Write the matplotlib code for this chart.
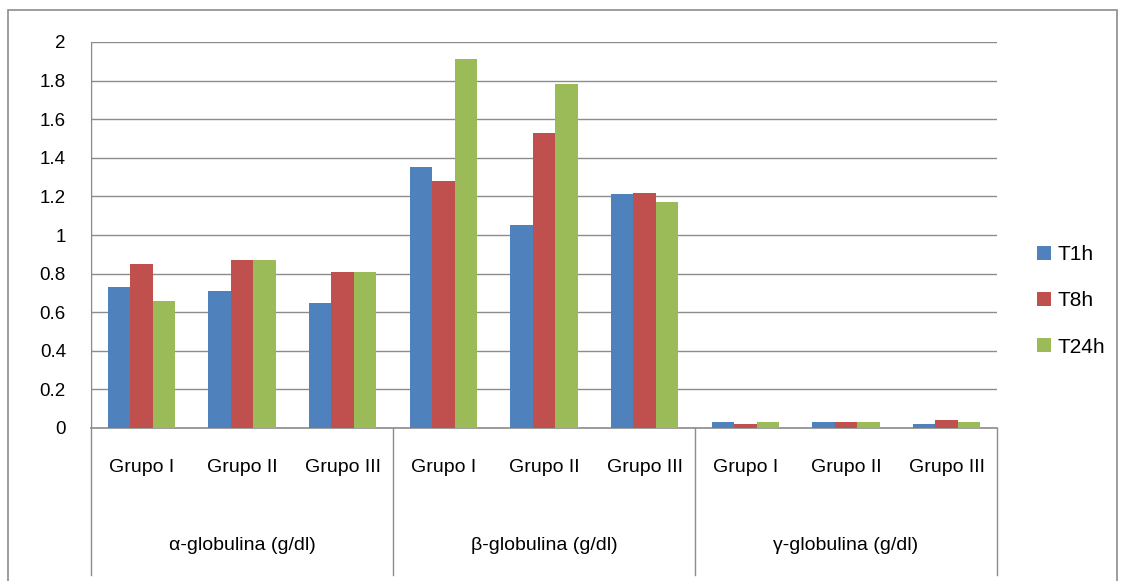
import numpy as np
import matplotlib.pyplot as plt
from matplotlib.patches import Rectangle

# data
groups = ['Grupo I', 'Grupo II', 'Grupo III']
proteins = ['\u03b1-globulina (g/dl)', '\u03b2-globulina (g/dl)', '\u03b3-globulina (g/dl)']
series = ['T1h', 'T8h', 'T24h']
t1h = [0.73, 0.71, 0.65, 1.35, 1.05, 1.21, 0.03, 0.03, 0.02]
t8h = [0.85, 0.87, 0.81, 1.28, 1.53, 1.22, 0.02, 0.03, 0.04]
t24h = [0.66, 0.87, 0.81, 1.91, 1.78, 1.17, 0.03, 0.03, 0.03]
colors = ['#4F81BD', '#C0504D', '#9BBB59']
yticks = [0, 0.2, 0.4, 0.6, 0.8, 1, 1.2, 1.4, 1.6, 1.8, 2]
ytick_labels = ['0', '0.2', '0.4', '0.6', '0.8', '1', '1.2', '1.4', '1.6', '1.8', '2']

plt.rcParams['font.family'] = ['Liberation Sans', 'DejaVu Sans']
line_col = '#8C8C8C'

fig = plt.figure(figsize=(11.24, 5.81), dpi=100)
# outer chart border
fig.patches.append(Rectangle((8 / 1124, -0.01), 1109 / 1124, 1 - 10 / 581 + 0.01,
                             transform=fig.transFigure, fill=False,
                             edgecolor=line_col, linewidth=1.2))

ax = fig.add_axes([91 / 1124, 153 / 581, 906 / 1124, 386 / 581])

n = len(t1h)
x = np.arange(n)
width = 1 / 4.5
for i, (vals, name) in enumerate(zip([t1h, t8h, t24h], series)):
    ax.bar(x + (i - 1) * width, vals, width, color=colors[i], label=name, zorder=3)

ax.set_xlim(-0.5, n - 0.5)
ax.set_ylim(0, 2)
ax.set_yticks(yticks)
ax.set_yticklabels(ytick_labels, fontsize=13.5)
ax.yaxis.grid(True, color=line_col, linewidth=1)
ax.tick_params(axis='y', length=0, pad=18)
ax.set_xticks([])
for s in ['top', 'right']:
    ax.spines[s].set_visible(False)
ax.spines['left'].set_color(line_col)
ax.spines['bottom'].set_color(line_col)
ax.spines['bottom'].set_linewidth(1.2)

# category separators extending into the label area
trans = ax.get_xaxis_transform()
low = -147 / 386
for xs in [-0.5, 2.5, 5.5, 8.5]:
    ax.plot([xs, xs], [0, low], transform=trans, color=line_col,
            linewidth=1, clip_on=False)
ax.plot([-0.5, -0.5], [0, 1], transform=trans, color=line_col, linewidth=1)

# two-level category labels
for j in range(n):
    ax.text(x[j], -40 / 386, groups[j % 3], transform=trans,
            ha='center', va='center', fontsize=14)
for k, p in enumerate(proteins):
    ax.text(3 * k + 1, -117 / 386, p, transform=trans,
            ha='center', va='center', fontsize=14)

fig.legend(loc='center left', bbox_to_anchor=(1029 / 1124, 1 - 301 / 581),
           frameon=False, fontsize=15, handlelength=0.65, handleheight=0.65,
           labelspacing=1.3, handletextpad=0.3, borderaxespad=0)

fig.savefig('out.png', dpi=100)
